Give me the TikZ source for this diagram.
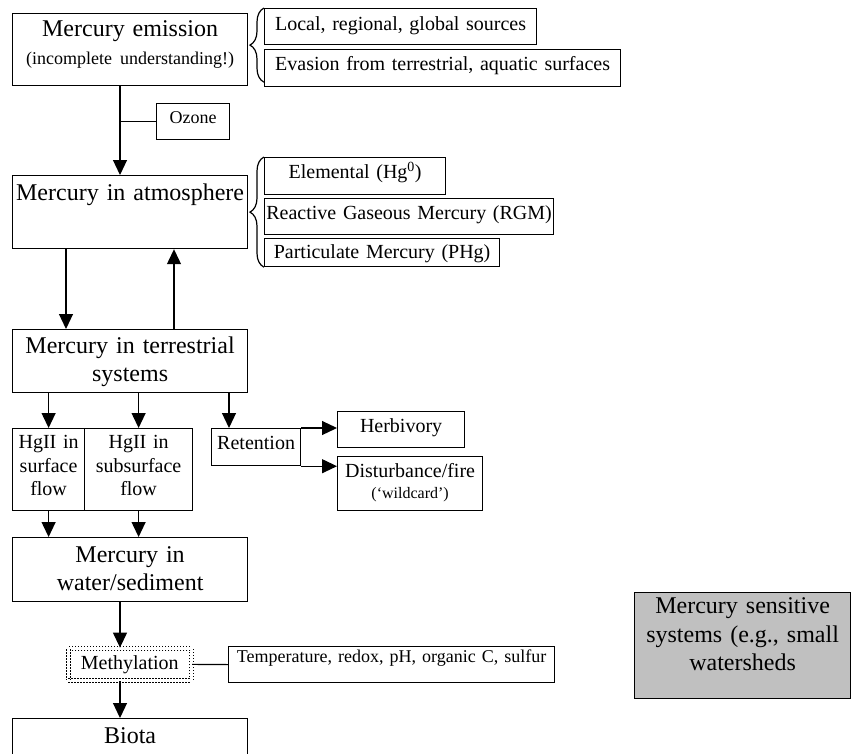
\documentclass[tikz,border=0pt]{standalone}
\usepackage{fontspec}
\setmainfont{Liberation Serif}
\usetikzlibrary{arrows.meta, decorations.pathreplacing}
\definecolor{boxgray}{RGB}{192,192,192}
\newcommand{\bigsize}{\fontsize{24}{27.5}\selectfont}
\newcommand{\midsize}{\fontsize{20}{23.5}\selectfont}
\tikzstyle{box} = [draw, line width=1.2pt, anchor=north west, inner sep=0pt, align=center]
\tikzstyle{dotbox} = [box, line width=1.5pt, double, double distance=2.4pt, dash pattern=on 1.5pt off 1.5pt]
\tikzstyle{line} = [draw, line width=1.2pt]
\tikzstyle{arrow} = [draw, line width=1.2pt, -{Triangle[length=15pt, width=14pt]}]
\tikzstyle{brace} = [draw, line width=1.2pt, decorate, decoration={brace, amplitude=14pt}]

\begin{document}
\begin{tikzpicture}[x=1pt, y=-1pt]
	\useasboundingbox (0,0) rectangle (851,753);
	\clip (0,0) rectangle (851,753);
	% emission and sources
	\node [box, text width=235pt, text height=23pt, text depth=49pt, font=\bigsize] (emis) at (12,13) {Mercury emission\\{\fontsize{18}{25}\selectfont (incomplete understanding!)}};
	\node [box, text width=272pt, text height=22pt, text depth=14pt, font=\midsize] (local) at (264,8) {Local, regional, global sources};
	\node [box, text width=356pt, text height=21pt, text depth=16pt, font=\midsize] (evasion) at (264,49) {Evasion from terrestrial, aquatic surfaces};
	\node [box, text width=73pt, text height=20pt, text depth=16pt, font=\fontsize{18}{21}\selectfont] (ozone) at (156,103) {Ozone};
	% atmosphere and species
	\node [box, text width=235pt, text height=25pt, text depth=48pt, font=\bigsize] (atmos) at (12,175) {Mercury in atmosphere};
	\node [box, text width=181pt, text height=21pt, text depth=16pt, font=\midsize] (elem) at (264,157) {Elemental (Hg\textsuperscript{0})};
	\node [box, text width=289pt, text height=21pt, text depth=15pt, font=\midsize] (rgm) at (264,198) {Reactive Gaseous Mercury (RGM)};
	\node [box, text width=235pt, text height=20pt, text depth=8pt, font=\midsize] (phg) at (264,238) {Particulate Mercury (PHg)};
	% terrestrial
	\node [box, text width=235pt, text height=24pt, text depth=39pt, font=\bigsize] (terr) at (12,329) {Mercury in terrestrial\\systems};
	\node [box, text width=72pt, text height=20pt, text depth=62pt, font=\midsize] (surf) at (12,428) {HgII in\\surface\\flow};
	\node [box, text width=108pt, text height=20pt, text depth=62pt, font=\midsize] (subsurf) at (84,428) {HgII in\\subsurface\\flow};
	\node [box, text width=89pt, text height=21pt, text depth=16pt, font=\midsize] (reten) at (211,428) {Retention};
	\node [box, text width=127pt, text height=21pt, text depth=15pt, font=\midsize] (herb) at (337,411) {Herbivory};
	\node [box, text width=145pt, text height=21pt, text depth=33pt, font=\midsize] (dist) at (337,456) {Disturbance/fire\\[-2.5pt]{\fontsize{16}{21}\selectfont (‘wildcard’)}};
	% water, methylation, biota
	\node [box, text width=235pt, text height=25pt, text depth=39pt, font=\bigsize] (water) at (12,537) {Mercury in\\water/sediment};
	\node [dotbox, text width=123pt, text height=21pt, text depth=11pt, font=\midsize] (meth) at (67.6,647.6) {Methylation};
	\node [box, text width=326pt, text height=16pt, text depth=20pt, font=\fontsize{18}{21}\selectfont] (temp) at (228,646) {Temperature, redox, pH, organic C, sulfur};
	\node [box, text width=235pt, text height=25pt, text depth=45pt, font=\bigsize] (biota) at (12,718) {Biota};
	\node [box, fill=boxgray, text width=216pt, text height=21pt, text depth=85pt, font=\fontsize{24}{28.5}\selectfont] (sens) at (634,592) {Mercury sensitive\\systems (e.g., small\\watersheds};

	\path [brace] ([yshift=5pt]evasion.south west) -- (local.north west);
	\path [brace] (phg.south west) -- (elem.north west);

	\coordinate (ea) at ([xshift=108pt]emis.south west);
	\coordinate (ad) at ([xshift=54pt]atmos.south west);
	\coordinate (au) at ([xshift=162pt]atmos.south west);
	\coordinate (rt) at ([xshift=18pt]reten.north west);
	\coordinate (wm) at ([xshift=108pt]water.south west);

	\path [arrow] (ea) -- (ea |- atmos.north);
	\path [line] (ozone.west) -- (ozone.west -| ea);
	\path [arrow] (ad) -- (ad |- terr.north);
	\path [arrow] (au |- terr.north) -- (au);
	\path [arrow] (surf.north |- terr.south) -- (surf.north);
	\path [arrow] (subsurf.north |- terr.south) -- (subsurf.north);
	\path [arrow] (rt |- terr.south) -- (rt);
	\path [arrow] (reten.north east) -- (reten.north east -| herb.west);
	\path [arrow] (reten.south east) -- (reten.south east -| dist.west);
	\path [arrow] (surf.south) -- (surf.south |- water.north);
	\path [arrow] (subsurf.south) -- (subsurf.south |- water.north);
	\path [arrow] (wm) -- (wm |- meth.north);
	\path [arrow] (wm |- meth.south) -- (wm |- biota.north);
	\path [line] (meth.east) -- (temp.west);
\end{tikzpicture}
\end{document}
